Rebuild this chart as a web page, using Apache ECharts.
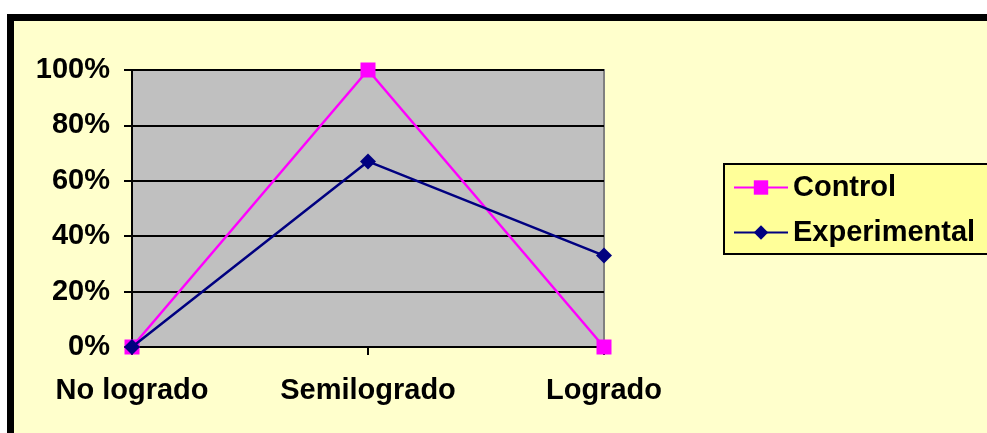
<!DOCTYPE html>
<html>
<head>
    <meta charset="UTF-8">
    <title>Control vs Experimental</title>
    <script src="https://cdn.jsdelivr.net/npm/echarts@6/dist/echarts.min.js"></script>
    <style>
        html, body { margin: 0; padding: 0; background: #ffffff; }
        #chartBox { width: 987px; height: 433px; }
    </style>
</head>
<body>
    <div id="chartBox"></div>
    <script>
        // categorías y valores (%)
        var categories = ['No logrado', 'Semilogrado', 'Logrado'];
        var controlData = [0, 100, 0];
        var experimentalData = [0, 67, 33];
        var yTicks = [0, 20, 40, 60, 80, 100];

        var myChart = echarts.init(document.getElementById('chartBox'));
        var boldFont = {
            color: '#000',
            fontFamily: 'Liberation Sans, Arial, sans-serif',
            fontWeight: 'bold',
            fontSize: 29
        };

        var option = {
            animation: false,
            graphic: [{
                type: 'rect',
                z: -10,
                shape: { x: 10.5, y: 17.5, width: 990, height: 430 },
                style: { fill: '#FFFFCC', stroke: '#000', lineWidth: 7 }
            }],
            grid: {
                left: 132,
                top: 70,
                right: 383,
                bottom: 86,
                show: true,
                backgroundColor: '#C0C0C0',
                borderColor: '#808080',
                borderWidth: 2
            },
            legend: {
                orient: 'vertical',
                left: 724,
                top: 164,
                itemWidth: 54,
                itemHeight: 18,
                itemGap: 16,
                padding: [9, 40, 7, 9],
                backgroundColor: '#FFFF99',
                borderColor: '#000',
                borderWidth: 2,
                textStyle: boldFont,
                data: ['Control', 'Experimental']
            },
            xAxis: {
                type: 'category',
                boundaryGap: false,
                data: categories,
                axisLine: { lineStyle: { color: '#000', width: 2 } },
                axisTick: { length: 8, lineStyle: { color: '#000', width: 2 } },
                axisLabel: Object.assign({ margin: 29 }, boldFont),
                splitLine: { show: false }
            },
            yAxis: {
                type: 'value',
                min: yTicks[0],
                max: yTicks[yTicks.length - 1],
                interval: yTicks[1] - yTicks[0],
                axisLine: { show: true, lineStyle: { color: '#000', width: 2 } },
                axisTick: { show: true, length: 8, lineStyle: { color: '#000', width: 2 } },
                axisLabel: Object.assign({ margin: 22, formatter: '{value}%' }, boldFont),
                splitLine: { lineStyle: { color: '#000', width: 2 } }
            },
            series: [{
                name: 'Control',
                type: 'line',
                data: controlData,
                symbol: 'rect',
                symbolSize: 15,
                lineStyle: { color: '#FF00FF', width: 2.5 },
                itemStyle: { color: '#FF00FF' },
                z: 3
            }, {
                name: 'Experimental',
                type: 'line',
                data: experimentalData,
                symbol: 'diamond',
                symbolSize: 16,
                lineStyle: { color: '#000080', width: 2.5 },
                itemStyle: { color: '#000080' },
                z: 4
            }]
        };

        myChart.setOption(option);
    </script>
</body>
</html>
